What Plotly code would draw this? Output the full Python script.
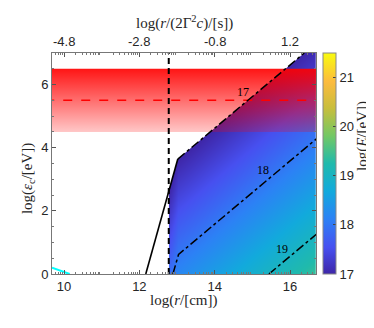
import plotly.graph_objects as go

# log(E/[eV]) at a few grid nodes (log r, log eps_c)
grid_r = [12.78, 13.02, 16.7]
grid_eps = [0.0, 7.0]
grid_logE = [[17.86, 18.20, 19.42],
             [15.55, 15.89, 17.11]]

# lines in (log r [cm], log eps_c [eV])
cut_r = 12.78
solid_r = [12.17, 13.02]
solid_eps = [0.0, 3.64]
c17_r = [13.02, 16.38]
c17_eps = [3.64, 7.0]
c18_r = [12.89, 13.04, 16.7]
c18_eps = [0.0, 0.62, 4.28]
c19_r = [15.44, 16.7]
c19_eps = [0.0, 1.26]
cyan_r = [9.68, 10.15]
cyan_eps = [0.2, 0.0]

# region with log E < 17 (left blank)
blank_r = [12.78, 13.02, 16.38, 16.38, 12.7, 12.7]
blank_eps = [2.62, 3.64, 7.0, 7.3, 7.3, 2.62]

# red band
band_lo, band_hi, band_mid = 4.5, 6.5, 5.5

labels = ['17', '18', '19']
label_r = [14.75, 15.28, 15.78]
label_eps = [5.77, 3.30, 0.79]

bottom_ticks = [10, 12, 14, 16]
top_ticks = [-4.8, -2.8, -0.8, 1.2]
shift = 14.8  # log(2 Gamma^2 c)

xr = [9.68, 16.69]

parula = [
    [0.0, 'rgb(62,38,168)'],
    [0.12, 'rgb(71,80,240)'],
    [0.25, 'rgb(44,130,245)'],
    [0.375, 'rgb(18,170,220)'],
    [0.5, 'rgb(32,186,172)'],
    [0.625, 'rgb(115,200,100)'],
    [0.75, 'rgb(200,190,60)'],
    [0.87, 'rgb(252,187,62)'],
    [1.0, 'rgb(249,251,14)'],
]

fig = go.Figure()

fig.add_trace(go.Contour(
    x=grid_r, y=grid_eps, z=grid_logE,
    colorscale=parula, zauto=False, zmin=17, zmax=21.5,
    contours=dict(coloring='heatmap', showlines=False, start=17, end=21.5, size=0.5),
    line_width=0,
    colorbar=dict(x=1.0265, xanchor='left', y=0.5, yanchor='middle',
                  len=1, lenmode='fraction', thickness=13, thicknessmode='pixels',
                  xpad=0, ypad=0,
                  tickvals=[17, 18, 19, 20, 21], ticks='inside', ticklen=3,
                  tickcolor='#444', outlinecolor='#888', outlinewidth=1,
                  tickfont=dict(family='Liberation Sans', size=13, color='#262626')),
    hoverinfo='skip',
))

# blank out log E < 17
fig.add_trace(go.Scatter(x=blank_r, y=blank_eps, fill='toself', fillcolor='white',
                         mode='none', showlegend=False, hoverinfo='skip'))

# red band, strong at top fading downwards
fig.add_trace(go.Scatter(
    x=[9.5, 16.9, 16.9, 9.5, 9.5], y=[band_lo, band_lo, band_hi, band_hi, band_lo],
    fill='toself', mode='none', showlegend=False, hoverinfo='skip',
    fillgradient=dict(type='vertical', start=band_lo, stop=band_hi,
                      colorscale=[[0, 'rgba(255,0,0,0.22)'], [1, 'rgba(255,0,0,0.92)']])))

fig.add_trace(go.Scatter(x=[9.5, 16.9], y=[band_mid, band_mid], mode='lines',
                         line=dict(color='red', width=1.5, dash='dash'),
                         showlegend=False))

fig.add_trace(go.Scatter(x=cyan_r, y=cyan_eps, mode='lines',
                         line=dict(color='cyan', width=2), showlegend=False))
fig.add_trace(go.Scatter(x=[cut_r, cut_r], y=[0, 7], mode='lines',
                         line=dict(color='black', width=2, dash='6px,4px'),
                         showlegend=False))
fig.add_trace(go.Scatter(x=solid_r, y=solid_eps, mode='lines',
                         line=dict(color='black', width=1.6), showlegend=False))
for xs, ys in [(c17_r, c17_eps), (c18_r, c18_eps), (c19_r, c19_eps)]:
    fig.add_trace(go.Scatter(x=xs, y=ys, mode='lines',
                             line=dict(color='black', width=1.5, dash='dashdot'),
                             showlegend=False))

for t, xx, yy in zip(labels, label_r, label_eps):
    fig.add_annotation(x=xx, y=yy, text=t, showarrow=False,
                       font=dict(family='Liberation Serif', size=12, color='black'))

tickfont = dict(family='Liberation Sans', size=13, color='#262626')

# top axis labels: log(r/(2 Gamma^2 c)) = log r - shift
for v in top_ticks:
    fig.add_annotation(x=v + shift, xref='x', y=1, yref='paper', yshift=12,
                       text='%g' % v, showarrow=False, font=tickfont,
                       xanchor='center', yanchor='middle')

serif = dict(family='Liberation Serif', size=15, color='#262626')
fig.add_annotation(xref='paper', yref='paper', x=0.5, y=-0.122, text='log(<i>r</i>/[cm])',
                   showarrow=False, font=serif, yanchor='middle')
fig.add_annotation(xref='paper', yref='paper', x=0.5, y=1.136,
                   text='log(<i>r</i>/(2Γ<sup>2</sup><i>c</i>)/[s])',
                   showarrow=False, font=serif, yanchor='middle')
fig.add_annotation(xref='paper', yref='paper', x=-0.091, y=0.434,
                   text='log(<i>ε</i><sub>c</sub>/[eV])', textangle=-90,
                   showarrow=False, font=serif, xanchor='center', yanchor='middle')
fig.add_annotation(xref='paper', yref='paper', x=1.174, y=0.624,
                   text='log(<i>E</i>/[eV])', textangle=-90,
                   showarrow=False, font=serif, xanchor='center', yanchor='middle')

minor_x = [n0 + k for n0 in range(9, 17) for k in
           [0.301, 0.477, 0.602, 0.699, 0.778, 0.845, 0.903, 0.954]]

fig.update_layout(
    width=374, height=328, autosize=False,
    margin=dict(l=44, r=66, t=45, b=62),
    paper_bgcolor='white', plot_bgcolor='white',
    xaxis=dict(range=xr, tickvals=bottom_ticks, ticks='inside', ticklen=4,
               tickcolor='#555', showline=True, linecolor='#777', linewidth=1,
               mirror='allticks', showgrid=False, zeroline=False, tickfont=tickfont,
               minor=dict(tickvals=minor_x, ticks='inside', ticklen=2, tickcolor='#777')),
    yaxis=dict(range=[0, 7], tickvals=[0, 2, 4, 6], ticks='inside', ticklen=4,
               tickcolor='#555', showline=True, linecolor='#777', linewidth=1,
               mirror='allticks', showgrid=False, zeroline=False, tickfont=tickfont,
               minor=dict(dtick=0.5, ticks='inside', ticklen=2, tickcolor='#777')),
)

fig.write_html("out.html")
